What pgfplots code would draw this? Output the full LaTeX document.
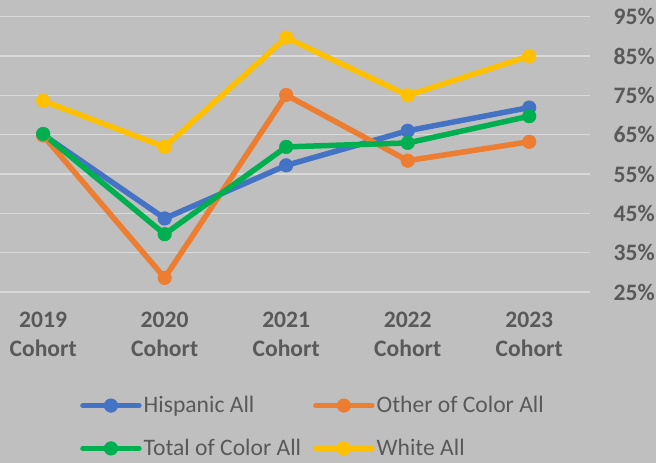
\documentclass[border=0pt]{standalone}
\usepackage{fontspec}
\setmainfont{Carlito}
\usepackage{pgfplots}
\pgfplotsset{compat=1.18}
\definecolor{bg}{HTML}{BFBFBF}
\definecolor{gridc}{HTML}{D9D9D9}
\definecolor{txt}{HTML}{595959}
\definecolor{cblue}{HTML}{4472C4}
\definecolor{corange}{HTML}{ED7D31}
\definecolor{cgreen}{HTML}{00B050}
\definecolor{cyellow}{HTML}{FFC000}
\begin{document}
\begin{tikzpicture}
\useasboundingbox (0pt,-171pt) rectangle (656pt,292pt);
\fill[bg] (0pt,-171pt) rectangle (656pt,292pt);
\begin{axis}[
  at={(0pt,0pt)}, anchor=south west,
  scale only axis, width=590pt, height=275.3pt,
  xmin=-0.355, xmax=4.5, ymin=25, ymax=95,
  xtick={0,1,2,3,4},
  xticklabels={{2019\\Cohort},{2020\\Cohort},{2021\\Cohort},{2022\\Cohort},{2023\\Cohort}},
  ytick={25,35,45,55,65,75,85,95},
  yticklabel={\pgfmathprintnumber{\tick}\%},
  /pgf/number format/assume math mode=true,
  yticklabel pos=right,
  ymajorgrids, grid style={gridc, line width=1.5pt},
  axis line style={draw=none},
  tick style={draw=none},
  major tick length=0pt,
  xticklabel style={font=\fontsize{23.6}{29}\selectfont\bfseries, text=txt, align=center, anchor=north, inner sep=0pt, yshift=-20pt},
  yticklabel style={font=\fontsize{23.6}{28}\selectfont\bfseries, text=txt, anchor=east, inner sep=0pt, xshift=65pt},
  legend style={at={(0.1356,-0.372)}, anchor=north west, draw=none, fill=none,
    font=\fontsize{23.6}{28}\selectfont, text=txt, inner sep=0pt, row sep=21pt,
    /tikz/every even column/.append style={column sep=10pt}},
  legend columns=2,
  legend cell align=left,
  legend image code/.code={\draw[mark repeat=2,mark phase=2,line cap=round,#1] plot coordinates {(0pt,0pt) (28pt,0pt) (56pt,0pt)};},
  every axis plot/.append style={line width=5.5pt, line join=round, mark=*, mark size=6.8pt},
  clip=false,
]
\addplot[cblue, mark options={fill=cblue, line width=0.5pt}] coordinates {(0,65.0) (1,43.7) (2,57.2) (3,66.0) (4,71.9)};
\addlegendentry{Hispanic All}
\addplot[corange, mark options={fill=corange, line width=0.5pt}] coordinates {(0,64.8) (1,28.6) (2,75.1) (3,58.4) (4,63.2)};
\addlegendentry{Other of Color All}
\addplot[cgreen, mark options={fill=cgreen, line width=0.5pt}] coordinates {(0,65.2) (1,39.7) (2,61.9) (3,62.9) (4,69.7)};
\addlegendentry{Total of Color All}
\addplot[cyellow, mark options={fill=cyellow, line width=0.5pt}] coordinates {(0,73.6) (1,61.9) (2,89.7) (3,75.0) (4,85.0)};
\addlegendentry{White All}
\end{axis}
\end{tikzpicture}
\end{document}
